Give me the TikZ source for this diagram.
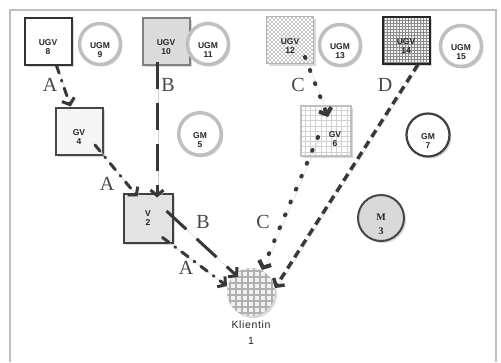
\documentclass[tikz,border=0pt]{standalone}
\usepackage{fontspec}
\setmainfont{Liberation Serif}
\setsansfont{Liberation Sans}
\usetikzlibrary{shadows,patterns,arrows.meta,calc}

\tikzset{
  shad/.style={drop shadow={shadow xshift=2pt, shadow yshift=-2pt, opacity=0.3}},
  box/.style={rectangle, minimum size=47pt, inner sep=0pt, line width=2pt,
    draw=black!80, fill=white, shad},
  ring/.style={circle, minimum size=41pt, inner sep=0pt, line width=3.5pt,
    draw=gray!50, fill=white, shad},
  nt/.style={font=\sffamily\bfseries\fontsize{8.5}{9.5}\selectfont, align=center,
    text=black!85, yshift=-6pt},
  elab/.style={font=\fontsize{20}{22}\selectfont, text=black!72, inner sep=0pt},
  conn/.style={line width=3pt, draw=black!78,
    -{Straight Barb[length=5.5pt,width=13pt]},
    preaction={draw=black!18, transform canvas={shift={(1.5pt,-1.5pt)}}}},
  adash/.style={conn, line cap=round, dash pattern=on 8pt off 7.5pt on 1pt off 7.5pt},
  bdash/.style={conn, dash pattern=on 27pt off 14pt},
  cdot/.style={conn, line width=4pt, line cap=round, dash pattern=on 1pt off 13pt},
  ddash/.style={conn, line width=3.4pt, dash pattern=on 8pt off 5pt},
}

\begin{document}
\begin{tikzpicture}[x=1pt,y=-1pt]
\useasboundingbox (0,0) rectangle (501,362);
\fill[white] (0,0) rectangle (501,362);
% frame
\draw[gray!50, line width=2pt] (10,362) -- (10,10) -- (496,10) -- (496,362);

% top row
\node[box, label={[nt]center:{UGV\\8}}] (ugv8) at (48,41) {};
\node[ring, label={[nt]center:{UGM\\9}}] (ugm9) at (100,44) {};
\node[box, fill=gray!28, draw=black!50, label={[nt]center:{UGV\\10}}] (ugv10) at (166,41) {};
\node[ring, label={[nt]center:{UGM\\11}}] (ugm11) at (208,44) {};
\node[box, draw=gray!60, line width=1.6pt,
  path picture={\foreach \i in {0,4,...,48}{\foreach \j in {0,4,...,48}{
      \fill[gray!45] ($(path picture bounding box.north west)+(\i,\j)$) rectangle +(2,2);
      \fill[gray!45] ($(path picture bounding box.north west)+(\i+2,\j+2)$) rectangle +(2,2);}}},
  label={[nt]center:{UGV\\12}}] (ugv12) at (290,40) {};
\node[ring, label={[nt]center:{UGM\\13}}] (ugm13) at (340,45) {};
\node[box, draw=black!85, preaction={fill=gray!12}, pattern=grid,
  pattern color=black!45, label={[nt]center:{UGV\\14}}] (ugv14) at (406,40) {};
\node[ring, label={[nt]center:{UGM\\15}}] (ugm15) at (461,46) {};

% middle row
\node[box, fill=gray!8, draw=black!72, label={[nt]center:{GV\\4}}] (gv4) at (79,131) {};
\node[ring, minimum size=42.5pt, label={[nt]center:{GM\\5}}] (gm5) at (200,134) {};
\node[box, minimum size=50pt, draw=gray!50, line width=2.5pt,
  path picture={\draw[gray!35, line width=0.6pt, step=5.2pt]
    (path picture bounding box.south west) grid (path picture bounding box.north east);},
  label={[nt, xshift=9pt, yshift=-2pt]center:{GV\\6}}] (gv6) at (326,131) {};
\node[ring, minimum size=43pt, line width=2.2pt, draw=black!75,
  label={[nt]center:{GM\\7}}] (gm7) at (428,135) {};

% lower
\node[box, minimum size=49pt, fill=gray!22, draw=black!75,
  label={[nt, yshift=6pt]center:{V\\2}}] (v2) at (148,218) {};
\node[ring, minimum size=46pt, line width=2pt, draw=black!72, fill=gray!30,
  label={[nt, font=\rmfamily\bfseries\fontsize{10}{14}\selectfont]center:{M\\3}}] (m3) at (381,218) {};
\node[circle, minimum size=48pt, inner sep=0pt, fill=gray!62, shad,
  path picture={\foreach \i in {-4,...,4}{\foreach \j in {-4,...,4}{
      \fill[gray!12] ($(path picture bounding box.center)+(6*\i-1.8,6*\j-1.8)$) rectangle +(3.6,3.6);}}},
  label={[font=\sffamily\fontsize{10.5}{16}\selectfont\addfontfeature{LetterSpace=6}, align=center,
    text=black!85, inner sep=4pt]below:{Klientin\\1}}] (kl) at (251,292) {};

% connectors
\draw[adash] (ugv8) -- (gv4);
\draw[adash] ($(gv4.center)+(16,14)$) -- ($(v2.north west)+(15,4)$);
\draw[bdash] ($(ugv10.south)+(-9,-4)$) -- ($(v2.north)+(9,5)$);
\draw[bdash] ($(v2.east)+(-7,-7)$) -- ($(kl.center)+(-13,-15)$);
\draw[adash] ($(v2.south east)+(-11,-6)$) -- ($(kl.center)+(-24,-6)$);
\draw[cdot] ($(ugv12.center)+(15,17)$) -- ($(gv6.center)+(2,-14)$);
\draw[cdot] ($(gv6.center)+(-8,6)$) -- ($(kl.center)+(11,-22)$);
\draw[ddash] ($(ugv14.south)+(12,0)$) -- ($(kl.center)+(24,-4)$);

% connector labels
\node[elab] (la1) at (50,85) {A};
\node[elab] (la2) at (107,184) {A};
\node[elab] (lb1) at (168,85) {B};
\node[elab] (lb2) at (203,222) {B};
\node[elab] (la3) at (186,268) {A};
\node[elab] (lc1) at (298,85) {C};
\node[elab] (lc2) at (263,222) {C};
\node[elab] (ld) at (385,85) {D};
\end{tikzpicture}
\end{document}
